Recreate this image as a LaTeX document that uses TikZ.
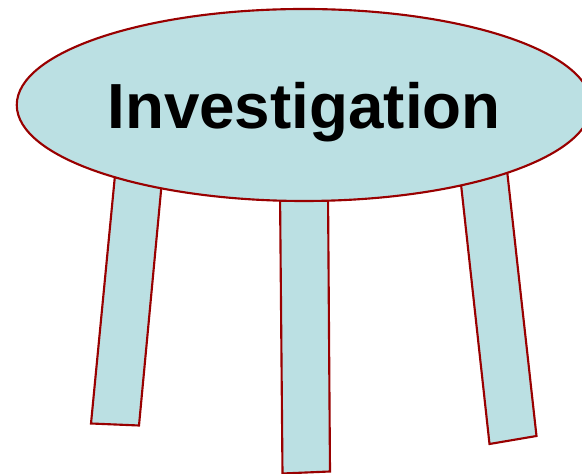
\documentclass[tikz,border=0pt]{standalone}
\usepackage{fontspec}
\setmainfont{Liberation Sans}
\definecolor{tabledge}{RGB}{153,0,0}
\definecolor{tabfill}{RGB}{187,224,227}
\usetikzlibrary{shapes.geometric}
\tikzset{
  tleg/.style={draw=tabledge, fill=tabfill, line width=1.6pt, line join=miter},
  ttop/.style={draw=tabledge, fill=tabfill, ellipse, line width=1.6pt, inner sep=0pt,
               minimum width=15.2cm, minimum height=5.08cm},
  ttext/.style={font=\fontsize{48}{58}\selectfont\bfseries, inner sep=0pt},
}
\begin{document}
\begin{tikzpicture}[x=0.02646cm, y=-0.02646cm]
\useasboundingbox (0,0) rectangle (582,474);

% --- Legs ---
\draw[tleg] (115.5,170) -- (91,423.5) -- (139,425.5) -- (162.5,175) -- cycle;
\draw[tleg] (280,190) -- (282.5,473.5) -- (330,471.5) -- (328,190) -- cycle;
\draw[tleg] (460,175) -- (489.5,444) -- (536.5,436) -- (507,170) -- cycle;

% --- Table top ---
\node[ttop] (top) at (304,105) {};
\node[ttext] (title) at (304,112) {Investigation};

\end{tikzpicture}
\end{document}
